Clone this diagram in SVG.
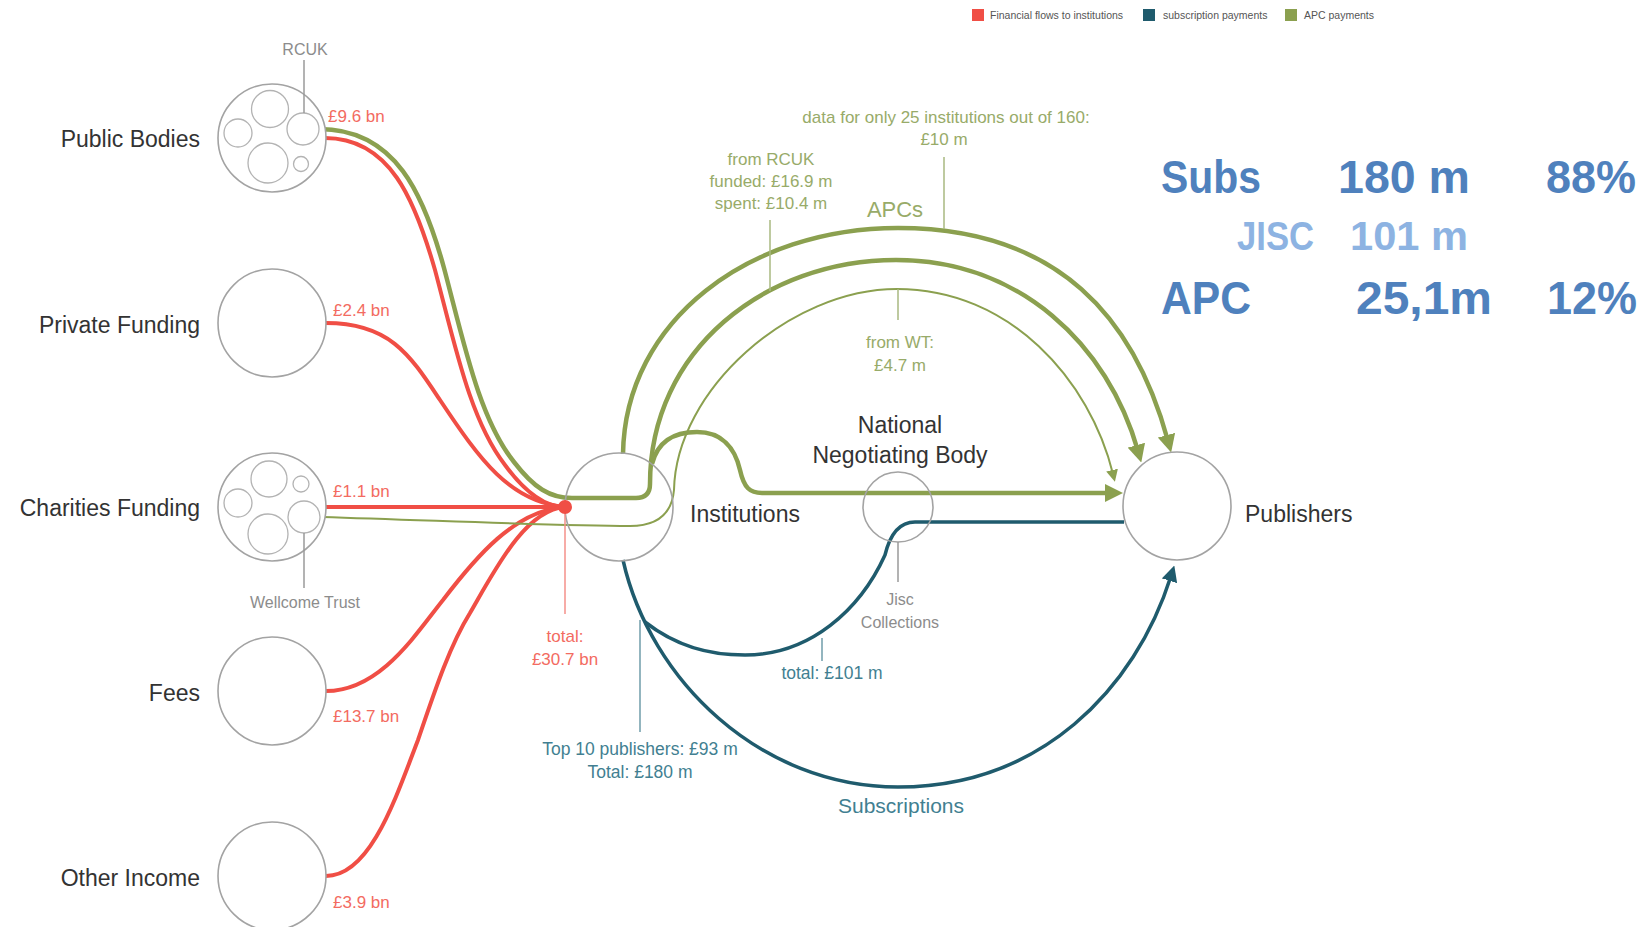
<svg xmlns="http://www.w3.org/2000/svg" width="1649" height="927" viewBox="0 0 1649 927">
<style>
text{font-family:"Liberation Sans",Arial,sans-serif}
.bg{fill:#fff}
.nc{fill:#fff;stroke:#a3a3a3;stroke-width:1.6}
.ic{fill:none;stroke:#b3b3b3;stroke-width:1.3}
.lbl{font-size:23px;fill:#333}
.val{font-size:17px;fill:#f36b61}
.gry{font-size:16px;fill:#8c8c8c}
.gtx{font-size:17px;fill:#98ab69}
.ttx{font-size:17.5px;fill:#427f91}
.red{fill:none;stroke:#f04e45;stroke-width:4}
.grn{fill:none;stroke:#8ba04f;stroke-width:4.5}
.grnT{fill:none;stroke:#8ba04f;stroke-width:2}
.teal{fill:none;stroke:#1f5b6d;stroke-width:3.5}
.lead{fill:none;stroke-width:1.5}
.big{font-weight:bold;font-size:46px;fill:#4f81bd}
.big2{font-weight:bold;font-size:40px;fill:#8db3e2}
.leg{font-size:10.5px;fill:#555}
</style>
<defs>
<marker id="ag" viewBox="0 0 18 18" refX="6" refY="9" markerWidth="18" markerHeight="18" markerUnits="userSpaceOnUse" orient="auto"><path d="M0,0 L18,9 L0,18 z" fill="#8ba04f"/></marker>
<marker id="agS" viewBox="0 0 12 12" refX="4" refY="6" markerWidth="12" markerHeight="12" markerUnits="userSpaceOnUse" orient="auto"><path d="M0,0 L12,6 L0,12 z" fill="#8ba04f"/></marker>
<marker id="at" viewBox="0 0 16 16" refX="5" refY="8" markerWidth="16" markerHeight="16" markerUnits="userSpaceOnUse" orient="auto"><path d="M0,0 L16,8 L0,16 z" fill="#1f5b6d"/></marker>
</defs>
<rect class="bg" x="0" y="0" width="1649" height="927"/>

<g id="legend">
<rect x="972" y="9" width="12" height="12" fill="#f04e45"/>
<text class="leg" x="990" y="19">Financial flows to institutions</text>
<rect x="1143" y="9" width="12" height="12" fill="#1f5b6d"/>
<text class="leg" x="1163" y="19">subscription payments</text>
<rect x="1285" y="9" width="12" height="12" fill="#8ba04f"/>
<text class="leg" x="1304" y="19">APC payments</text>
</g>

<g id="connectors">
<!-- red flows -->
<path class="red" d="M325,138 C390,138 415,200 435,270 C455,345 470,420 505,465 C525,492 545,507 565,507"/>
<path class="red" d="M326,323 C390,323 410,355 440,400 C480,460 510,502 565,507"/>
<path class="red" d="M326,507 L565,507"/>
<path class="red" d="M326,691 C380,691 415,635 443,600 C475,558 515,510 565,507"/>
<path class="red" d="M326,876 C370,876 395,800 418,740 C435,690 450,645 470,613 C495,570 525,510 565,507"/>
<!-- green APC flows -->
<path class="grn" d="M319,129 C396,129 424,195 444,268 C464,343 479,418 514,462 C534,488 550,498 572,498 L636,498 Q650,498 650,484 C650,350 765,260 896,260 C1020,260 1108,345 1138,451" marker-end="url(#ag)"/>
<path class="grn" d="M623,454 C625,320 750,228 898,228 C1060,228 1135,320 1168,441" marker-end="url(#ag)"/>
<path class="grn" d="M652,464 C658,440 675,432 697,432 C722,432 735,448 740,470 C744,488 750,493 762,493 L1111,493" marker-end="url(#ag)"/>
<path class="grnT" d="M322,517 C450,521 560,526 630,526 C660,526 672,512 674,490 C676,390 790,289 897,289 C1010,289 1090,380 1113,474" marker-end="url(#agS)"/>
<!-- teal subscription flows -->
<path class="teal" d="M623,560 C650,680 760,787 898,787 C1040,787 1135,690 1171,576" marker-end="url(#at)"/>
<path class="teal" d="M645,622 C677,647 710,655 745,655 C810,655 860,610 885,555 Q893,522 915,522 L1124,522"/>
</g>

<g id="public-bodies">
<circle class="nc" cx="272" cy="138" r="54"/>
<circle class="ic" cx="270" cy="109" r="18.5"/>
<circle class="ic" cx="238" cy="133" r="14"/>
<circle class="ic" cx="303" cy="129" r="16"/>
<circle class="ic" cx="268" cy="163" r="20"/>
<circle class="ic" cx="301" cy="164" r="7.5"/>
<text class="lbl" x="200" y="147" text-anchor="end">Public Bodies</text>
<text class="val" x="328" y="122">£9.6 bn</text>
<line class="lead" x1="304" y1="60" x2="304" y2="113" stroke="#9a9a9a"/>
<text class="gry" x="305" y="55" text-anchor="middle">RCUK</text>
</g>

<g id="private-funding">
<circle class="nc" cx="272" cy="323" r="54"/>
<text class="lbl" x="200" y="333" text-anchor="end">Private Funding</text>
<text class="val" x="333" y="316">£2.4 bn</text>
</g>

<g id="charities-funding">
<circle class="nc" cx="272" cy="507" r="54"/>
<circle class="ic" cx="269" cy="479" r="18"/>
<circle class="ic" cx="301" cy="484" r="8"/>
<circle class="ic" cx="238" cy="503" r="14"/>
<circle class="ic" cx="268" cy="534" r="20"/>
<circle class="ic" cx="304" cy="517" r="16"/>
<text class="lbl" x="200" y="516" text-anchor="end">Charities Funding</text>
<text class="val" x="333" y="497">£1.1 bn</text>
<line class="lead" x1="304" y1="533" x2="304" y2="588" stroke="#9a9a9a"/>
<text class="gry" x="305" y="608" text-anchor="middle">Wellcome Trust</text>
</g>

<g id="fees">
<circle class="nc" cx="272" cy="691" r="54"/>
<text class="lbl" x="200" y="701" text-anchor="end">Fees</text>
<text class="val" x="333" y="722">£13.7 bn</text>
</g>

<g id="other-income">
<circle class="nc" cx="272" cy="876" r="54"/>
<text class="lbl" x="200" y="886" text-anchor="end">Other Income</text>
<text class="val" x="333" y="908">£3.9 bn</text>
</g>

<g id="institutions">
<circle class="nc" cx="619" cy="507" r="54" style="fill:none"/>
<text class="lbl" x="690" y="522">Institutions</text>
</g>

<g id="total-dot">
<circle cx="565" cy="507" r="7" fill="#f04e45"/>
<line class="lead" x1="565" y1="514" x2="565" y2="614" stroke="#f4918a"/>
<text class="val" x="565" y="642" text-anchor="middle">total:</text>
<text class="val" x="565" y="665" text-anchor="middle">£30.7 bn</text>
</g>

<g id="national-negotiating-body">
<circle class="nc" cx="898" cy="507" r="35" style="fill:none"/>
<text class="lbl" x="900" y="433" text-anchor="middle">National</text>
<text class="lbl" x="900" y="463" text-anchor="middle">Negotiating Body</text>
<line class="lead" x1="898" y1="542" x2="898" y2="582" stroke="#9a9a9a"/>
<text class="gry" x="900" y="605" text-anchor="middle">Jisc</text>
<text class="gry" x="900" y="628" text-anchor="middle">Collections</text>
</g>

<g id="publishers">
<circle class="nc" cx="1177" cy="506" r="54"/>
<text class="lbl" x="1245" y="522">Publishers</text>
</g>

<g id="apc-labels">
<text class="gtx" x="946" y="123" text-anchor="middle">data for only 25 institutions out of 160:</text>
<text class="gtx" x="944" y="145" text-anchor="middle">£10 m</text>
<line class="lead" x1="944" y1="157" x2="944" y2="229" stroke="#a8b880"/>
<text class="gtx" x="771" y="165" text-anchor="middle">from RCUK</text>
<text class="gtx" x="771" y="187" text-anchor="middle">funded: £16.9 m</text>
<text class="gtx" x="771" y="209" text-anchor="middle">spent: £10.4 m</text>
<line class="lead" x1="770" y1="220" x2="770" y2="291" stroke="#a8b880"/>
<text class="gtx" x="895" y="217" text-anchor="middle" style="font-size:22px">APCs</text>
<line class="lead" x1="898" y1="289" x2="898" y2="320" stroke="#a8b880"/>
<text class="gtx" x="900" y="348" text-anchor="middle">from WT:</text>
<text class="gtx" x="900" y="371" text-anchor="middle">£4.7 m</text>
</g>

<g id="subscription-labels">
<line class="lead" x1="640" y1="620" x2="640" y2="732" stroke="#6f9daa"/>
<text class="ttx" x="640" y="755" text-anchor="middle">Top 10 publishers: £93 m</text>
<text class="ttx" x="640" y="778" text-anchor="middle">Total: £180 m</text>
<line class="lead" x1="822" y1="638" x2="822" y2="661" stroke="#6f9daa"/>
<text class="ttx" x="832" y="679" text-anchor="middle">total: £101 m</text>
<text class="ttx" x="901" y="813" text-anchor="middle" style="font-size:21px">Subscriptions</text>
</g>

<g id="summary">
<text class="big" x="1161" y="193" textLength="100" lengthAdjust="spacingAndGlyphs">Subs</text>
<text class="big" x="1338" y="193" textLength="132" lengthAdjust="spacingAndGlyphs">180 m</text>
<text class="big" x="1546" y="193" textLength="90" lengthAdjust="spacingAndGlyphs">88%</text>
<text class="big2" x="1237" y="250" textLength="77" lengthAdjust="spacingAndGlyphs">JISC</text>
<text class="big2" x="1350" y="250" textLength="118" lengthAdjust="spacingAndGlyphs">101 m</text>
<text class="big" x="1161" y="314" textLength="90" lengthAdjust="spacingAndGlyphs">APC</text>
<text class="big" x="1356" y="314" textLength="136" lengthAdjust="spacingAndGlyphs">25,1m</text>
<text class="big" x="1547" y="314" textLength="90" lengthAdjust="spacingAndGlyphs">12%</text>
</g>
</svg>
